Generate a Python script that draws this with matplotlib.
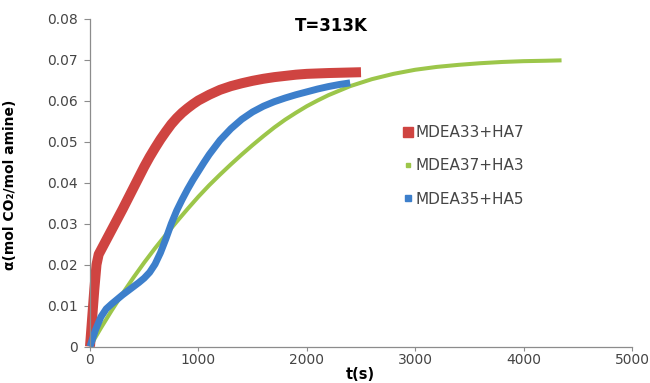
import matplotlib
matplotlib.use('Agg')
import matplotlib.pyplot as plt
from matplotlib.lines import Line2D

# Data (t in s, alpha in mol CO2 / mol amine)
t_red = [0, 20, 40, 60, 80, 100, 150, 200, 250, 300, 350, 400, 450, 500, 550,
         600, 650, 700, 750, 800, 850, 900, 950, 1000, 1100, 1200, 1300, 1400,
         1500, 1600, 1700, 1800, 1900, 2000, 2200, 2500]
a_red = [0, 0.007, 0.014, 0.020, 0.0225, 0.0235, 0.026, 0.0285, 0.031, 0.0335,
         0.0361, 0.0387, 0.0413, 0.0439, 0.0463, 0.0485, 0.0506, 0.0525, 0.0543,
         0.0558, 0.0571, 0.0582, 0.0592, 0.0601, 0.0615, 0.0627, 0.0636, 0.0643,
         0.0649, 0.0654, 0.0658, 0.0661, 0.0664, 0.0666, 0.0668, 0.067]

t_green = [0, 100, 200, 300, 400, 500, 600, 700, 800, 900, 1000, 1100, 1200,
           1300, 1400, 1500, 1600, 1700, 1800, 1900, 2000, 2100, 2200, 2400,
           2600, 2800, 3000, 3200, 3400, 3600, 3800, 4000, 4200, 4350]
a_green = [0, 0.0045, 0.0088, 0.0129, 0.0168, 0.0205, 0.0240, 0.0273, 0.0305,
           0.0336, 0.0366, 0.0394, 0.0420, 0.0445, 0.0469, 0.0492, 0.0514,
           0.0535, 0.0554, 0.0571, 0.0587, 0.0601, 0.0614, 0.0636, 0.0653,
           0.0666, 0.0676, 0.0683, 0.0688, 0.0692, 0.0695, 0.0697, 0.0698,
           0.0699]

t_blue = [0, 25, 50, 100, 150, 200, 250, 300, 350, 400, 450, 500, 550, 600,
          650, 700, 750, 800, 850, 900, 950, 1000, 1050, 1100, 1200, 1300, 1400,
          1500, 1600, 1700, 1800, 1900, 2000, 2100, 2200, 2300, 2400]
a_blue = [0, 0.002, 0.004, 0.0072, 0.0092, 0.0104, 0.0115, 0.0126, 0.0136,
          0.0146, 0.0156, 0.0167, 0.0181, 0.0201, 0.0229, 0.0263, 0.0300, 0.0332,
          0.0359, 0.0384, 0.0407, 0.0428, 0.0449, 0.0469, 0.0504, 0.0532, 0.0555,
          0.0573, 0.0587, 0.0598, 0.0607, 0.0615, 0.0622, 0.0629, 0.0635, 0.064,
          0.0644]

labels = ['MDEA33+HA7', 'MDEA37+HA3', 'MDEA35+HA5']
colors = ['#CF4441', '#9CC64A', '#3D7FCB']

x_ticks = [0, 1000, 2000, 3000, 4000, 5000]
y_ticks = [0, 0.01, 0.02, 0.03, 0.04, 0.05, 0.06, 0.07, 0.08]
y_ticklabels = ['0', '0.01', '0.02', '0.03', '0.04', '0.05', '0.06', '0.07', '0.08']

fig = plt.figure(figsize=(6.5, 3.83), dpi=100)
ax = fig.add_axes([90 / 650, 1 - 346.5 / 383, 542 / 650, 327.5 / 383])

ax.plot(t_red, a_red, color=colors[0], lw=7.2, solid_capstyle='butt',
        solid_joinstyle='round', clip_on=False)
ax.plot(t_green, a_green, color=colors[1], lw=2.9, solid_capstyle='butt',
        solid_joinstyle='round', clip_on=False)
ax.plot(t_blue, a_blue, color=colors[2], lw=5.0, solid_capstyle='butt',
        solid_joinstyle='round', clip_on=False)

ax.set_xlim(0, 5000)
ax.set_ylim(0, 0.08)
ax.set_xticks(x_ticks)
ax.set_yticks(y_ticks)
ax.set_yticklabels(y_ticklabels)

for side in ['top', 'right']:
    ax.spines[side].set_visible(False)
for side in ['left', 'bottom']:
    ax.spines[side].set_color('#8c8c8c')
    ax.spines[side].set_linewidth(0.9)
ax.tick_params(axis='both', colors='#8c8c8c', labelcolor='#454545', labelsize=10)
ax.tick_params(axis='y', length=4, pad=5)
ax.tick_params(axis='x', length=3, pad=2)

ax.set_ylabel('α(mol CO₂/mol amine)', fontsize=10, fontweight='bold')
ax.yaxis.set_label_coords(-0.134, 0.495)
ax.set_xlabel('t(s)', fontsize=10.5, fontweight='bold')
ax.xaxis.set_label_coords(0.498, -0.062)

ax.text(0.445, 0.979, 'T=313K', transform=ax.transAxes, ha='center', va='center',
        fontsize=12, fontweight='bold')

handles = [
    Line2D([], [], ls='none', marker='s', markersize=6.5, color=colors[0]),
    Line2D([], [], ls='none', marker='s', markersize=2.8, color=colors[1]),
    Line2D([], [], ls='none', marker='s', markersize=4.5, color=colors[2]),
]
leg = ax.legend(handles, labels, loc='upper left', bbox_to_anchor=(403 / 650, 1 - 125 / 383),
                bbox_transform=fig.transFigure, frameon=False, fontsize=11,
                handlelength=0.6, handletextpad=0.25, labelspacing=1.2, borderpad=0,
                borderaxespad=0)
for txt in leg.get_texts():
    txt.set_color('#454545')

fig.savefig('out.png', dpi=100)
